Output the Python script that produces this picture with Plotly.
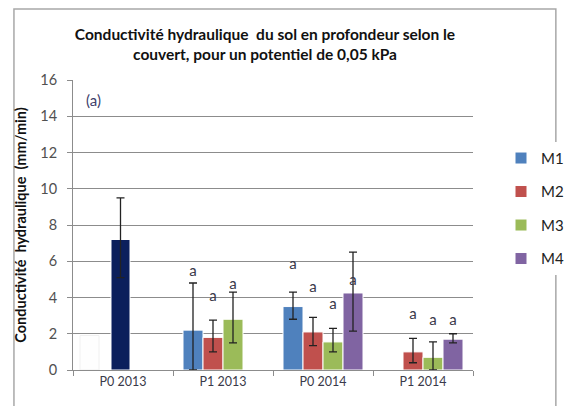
import plotly.graph_objects as go

categories = ["P0 2013", "P1 2013", "P0 2014", "P1 2014"]
series = ["M1", "M2", "M3", "M4"]

# mean values per series (None = no bar)
values = {
    "M1": [None, 2.2, 3.5, None],
    "M2": [None, 1.8, 2.1, 1.0],
    "M3": [None, 2.8, 1.55, 0.7],
    "M4": [None, None, 4.25, 1.7],
}
err_plus = {
    "M1": [None, 2.6, 0.8, None],
    "M2": [None, 0.95, 0.8, 0.75],
    "M3": [None, 1.5, 0.75, 0.85],
    "M4": [None, None, 2.25, 0.3],
}
err_minus = {
    "M1": [None, 2.2, 0.7, None],
    "M2": [None, 0.8, 0.75, 0.6],
    "M3": [None, 1.3, 0.55, 0.7],
    "M4": [None, None, 2.1, 0.2],
}
# significance letters and their heights
letters = {
    "M1": [None, "a", "a", None],
    "M2": [None, "a", "a", "a"],
    "M3": [None, "a", "a", "a"],
    "M4": [None, None, "a", "a"],
}
letter_y = {
    "M1": [None, 5.4, 5.8, None],
    "M2": [None, 4.0, 4.5, 3.0],
    "M3": [None, 4.7, 3.6, 2.7],
    "M4": [None, None, 4.9, 2.7],
}

p0_2013_value = 7.2
p0_2013_plus = 2.3
p0_2013_minus = 2.1
p0_2013_ghost = 1.9

colors = {"M1": "#4F81BD", "M2": "#C0504D", "M3": "#9BBB59", "M4": "#8064A2"}
NAVY = "#0B1F5C"
GRID = "#8C8C8C"
TXT = "#3A3A4A"

fig = go.Figure()

# faint white bar and the navy bar for P0 2013 (outside the grouping)
fig.add_trace(go.Bar(
    x=[categories[0]], y=[p0_2013_ghost], width=0.19, offset=-0.43,
    marker=dict(color="#FEFEFE", line=dict(color="#F0F0F0", width=1)),
    showlegend=False, hoverinfo="skip",
))
fig.add_trace(go.Bar(
    x=[categories[0]], y=[p0_2013_value], width=0.19, offset=-0.12,
    marker=dict(color=NAVY, line=dict(color="#FFFFFF", width=1)),
    error_y=dict(type="data", symmetric=False, array=[p0_2013_plus],
                 arrayminus=[p0_2013_minus], color="#222222", thickness=1.3, width=4),
    showlegend=False,
))

for s in series:
    fig.add_trace(go.Bar(
        x=categories, y=values[s], name=s,
        marker=dict(color=colors[s], line=dict(color="#FFFFFF", width=1)),
        error_y=dict(type="data", symmetric=False, array=err_plus[s],
                     arrayminus=err_minus[s], color="#222222", thickness=1.3, width=4),
        offsetgroup=s, legendgroup=s,
    ))
    fig.add_trace(go.Scatter(
        x=categories, y=letter_y[s], text=letters[s], mode="text",
        textfont=dict(size=15, color=TXT, family="Lato"),
        offsetgroup=s, showlegend=False, hoverinfo="skip",
    ))

fig.add_annotation(text="(a)", xref="paper", yref="paper", x=12 / 420, y=270 / 290,
                   xanchor="left", yanchor="middle", showarrow=False,
                   font=dict(size=15, color="#40406A"))

# chart border
fig.add_shape(type="rect", xref="paper", yref="paper",
              x0=-62 / 420, x1=507 / 420, y0=-48 / 290, y1=361 / 290,
              line=dict(color="#A8A8A8", width=1.5), fillcolor="rgba(0,0,0,0)")

fig.update_layout(
    width=573, height=398,
    paper_bgcolor="white", plot_bgcolor="white",
    font=dict(family="Lato", color="#404040"),
    barmode="group", bargap=0.2, bargroupgap=0,
    scattermode="group", scattergap=0.2,
    title=dict(text="<b>Conductivité hydraulique  du sol en profondeur selon le<br>couvert, pour un potentiel de 0,05 kPa</b>",
               x=257 / 573, xanchor="center", y=1 - 32 / 398, yanchor="middle",
               font=dict(size=15.5, color="#111111", family="Lato")),
    xaxis=dict(showgrid=False, showline=True, linecolor=GRID, ticks="outside",
               tickson="boundaries", ticklen=5, tickcolor=GRID,
               tickfont=dict(size=12.5, color=TXT)),
    yaxis=dict(range=[0, 16], dtick=2, showgrid=True, gridcolor=GRID, gridwidth=1,
               showline=True, linecolor=GRID, ticks="outside", ticklen=5, tickcolor=GRID,
               ticklabelstandoff=7,
               tickfont=dict(size=14.5, color="#505050"), zeroline=False,
               title=dict(text="<b>Conductivité  hydraulique  (mm/min)</b>",
                          font=dict(size=14.5, color="#111111"), standoff=10)),
    legend=dict(x=1.07, xanchor="left", y=0.787, yanchor="top",
                font=dict(size=15, color="#222222"), tracegroupgap=11,
                traceorder="grouped", itemwidth=30),
    margin=dict(l=65, r=88, t=72, b=36),
)

fig.write_html("out.html")
